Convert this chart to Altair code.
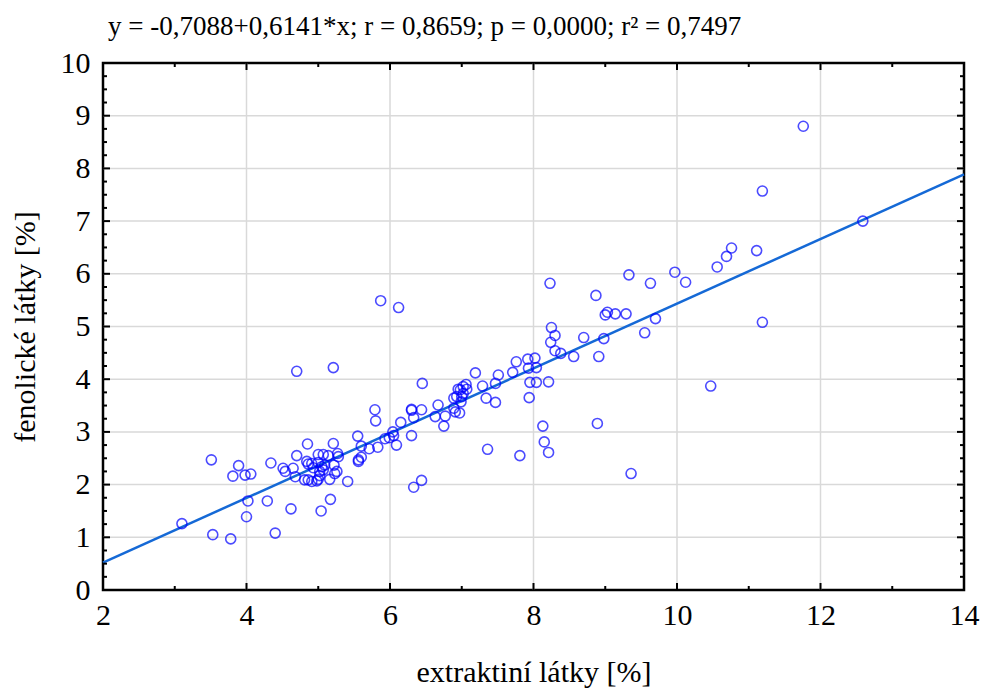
import altair as alt
import pandas as pd

x_vals = [3.10, 3.53, 3.78, 3.51, 3.89, 3.81, 3.98, 4.06, 4.02, 4.00, 4.29, 4.40, 4.34, 4.62,
          4.51, 4.54, 4.65, 4.68, 4.70, 4.85, 4.70, 5.21,
          4.84, 4.86, 4.91, 4.93,
          4.81, 4.86, 4.91, 4.98, 5.00,
          5.00, 5.07, 5.14, 5.00, 5.05, 5.09, 5.02, 5.07, 5.02,
          5.22, 5.26, 5.16, 5.23, 5.21, 5.27, 5.28,
          5.17, 5.04, 5.41,
          5.55, 5.60, 5.56, 5.56, 5.60, 5.71, 5.83, 5.79, 5.80,
          5.87, 6.12,
          5.93, 5.99, 6.05, 6.04, 6.09, 6.15,
          6.30, 6.30, 6.44, 6.33, 6.30, 6.45, 6.44, 6.33,
          6.67, 6.63, 6.77, 6.75,
          6.89, 6.91, 6.97, 6.89, 6.93, 7.00, 7.02, 6.95, 6.98, 7.07, 7.02, 7.06, 6.99,
          7.19, 7.29, 7.34, 7.47, 7.47, 7.51, 7.71, 7.76, 7.36, 7.81,
          7.92, 8.02, 7.93, 8.04, 7.95, 8.04, 7.94, 8.21,
          8.13, 8.15, 8.21,
          8.24, 8.30, 8.25, 8.30, 8.38, 8.56, 8.70, 8.91, 8.98, 8.89,
          8.23, 8.87, 9.00, 9.03, 9.14, 9.29, 9.33, 9.36, 9.55, 9.63, 9.70,
          9.97, 10.12, 10.47, 10.56, 10.69, 10.76, 11.11, 11.19, 11.19, 11.76, 12.59]
y_vals = [1.26, 1.05, 0.97, 2.47, 2.36, 2.16, 2.18, 2.20, 1.69, 1.39, 1.69, 1.08, 2.41, 1.54,
          2.31, 2.25, 2.31, 2.15, 2.55, 2.77, 4.15, 4.22,
          2.44, 2.39, 2.40, 2.32,
          2.09, 2.09, 2.06, 2.07, 2.10,
          2.57, 2.57, 2.55, 2.42, 2.34, 2.37, 2.25, 2.28, 2.17,
          2.37, 2.25, 2.10, 2.21, 2.78, 2.59, 2.53,
          1.72, 1.50, 2.06,
          2.92, 2.73, 2.47, 2.44, 2.52, 2.68, 2.71, 3.42, 3.21,
          5.49, 5.36,
          2.87, 2.89, 2.93, 3.00, 2.75, 3.18,
          3.43, 3.41, 3.42, 3.27, 2.93, 3.92, 2.08, 1.95,
          3.51, 3.29, 3.30, 3.11,
          3.45, 3.38, 3.36, 3.64, 3.67, 3.67, 3.73, 3.81, 3.80, 3.81, 3.86, 3.90, 3.57,
          4.12, 3.87, 3.64, 3.56, 3.92, 4.08, 4.13, 4.33, 2.67, 2.55,
          4.38, 4.40, 4.21, 4.22, 3.94, 3.94, 3.65, 3.95,
          3.11, 2.81, 2.61,
          4.70, 4.83, 4.98, 4.54, 4.49, 4.43, 4.79, 4.43, 4.77, 3.16,
          5.82, 5.59, 5.22, 5.27, 5.24, 5.24, 5.98, 2.21, 4.88, 5.82, 5.15,
          6.03, 5.84, 3.87, 6.13, 6.33, 6.49, 6.44, 7.57, 5.08, 8.80, 7.00]

fit_intercept = -0.7088
fit_slope = 0.6141
fit_x = [2, 14]

x_ticks = [2, 4, 6, 8, 10, 12, 14]
x_minor = [3, 5, 7, 9, 11, 13]
y_ticks = [0, 1, 2, 3, 4, 5, 6, 7, 8, 9, 10]
y_minor = [k / 4 for k in range(41) if k % 4]
grid_x = [4, 6, 8, 10, 12]
grid_y = [1, 2, 3, 4, 5, 6, 7, 8, 9]

title_text = "y = -0,7088+0,6141*x; r = 0,8659; p = 0,0000; r\u00b2 = 0,7497"

W, H = 861, 527
FONT = "Liberation Serif"

xs = alt.Scale(domain=[2, 14], nice=False, zero=False)
ys = alt.Scale(domain=[0, 10], nice=False, zero=False)

df = pd.DataFrame({"x": x_vals, "y": y_vals})

x_axis = alt.Axis(
    values=x_ticks, grid=False, ticks=False, domain=False,
    labelFont=FONT, labelFontSize=30, labelColor="black", labelPadding=10,
    title="extraktiní látky [%]", titleFont=FONT, titleFontSize=30,
    titleFontWeight="normal", titleColor="black",
    titleX=W / 2, titleY=91, titleBaseline="alphabetic", labelFlush=False)
y_axis = alt.Axis(
    values=y_ticks, grid=False, ticks=False, domain=False,
    labelFont=FONT, labelFontSize=30, labelColor="black", labelPadding=13,
    title="fenolické látky [%]", titleFont=FONT, titleFontSize=30,
    titleFontWeight="normal", titleColor="black",
    titleX=-69, titleY=H / 2, titleAngle=-90, titleBaseline="alphabetic",
    titleAlign="center", labelFlush=False)


def vals(lst):
    return alt.Data(values=[{"x": v, "y": v} for v in lst])


gx = alt.Chart(vals(grid_x)).mark_rule(color="#d9d9d9", strokeWidth=1.5).encode(
    x=alt.X("x:Q", scale=xs, axis=x_axis), y=alt.value(0), y2=alt.value(H))
gy = alt.Chart(vals(grid_y)).mark_rule(color="#d9d9d9", strokeWidth=1.5).encode(
    y=alt.Y("y:Q", scale=ys, axis=y_axis), x=alt.value(0), x2=alt.value(W))

points = alt.Chart(df).mark_point(shape="circle", filled=False, color="#0000ff",
                                  size=100, strokeWidth=1.6).encode(
    x=alt.X("x:Q", scale=xs, axis=x_axis),
    y=alt.Y("y:Q", scale=ys, axis=y_axis),
)

line = alt.Chart(alt.Data(values=[{"x": v} for v in fit_x])).transform_calculate(
    y=f"{fit_intercept} + {fit_slope} * datum.x"
).mark_line(color="#1569d6", strokeWidth=2.5).encode(
    x=alt.X("x:Q", scale=xs, axis=x_axis),
    y=alt.Y("y:Q", scale=ys, axis=y_axis),
)


def xtick(lst, y0, y1, w):
    return alt.Chart(vals(lst)).mark_rule(color="black", strokeWidth=w).encode(
        x=alt.X("x:Q", scale=xs, axis=x_axis), y=alt.value(y0), y2=alt.value(y1))


def ytick(lst, x0, x1, w):
    return alt.Chart(vals(lst)).mark_rule(color="black", strokeWidth=w).encode(
        y=alt.Y("y:Q", scale=ys, axis=y_axis), x=alt.value(x0), x2=alt.value(x1))


ticks = [
    xtick(x_ticks, H, H - 7, 2), xtick(x_minor, H, H - 4, 2),
    xtick(x_ticks, 0, 7, 2), xtick(x_minor, 0, 4, 2),
    ytick(y_ticks, 0, 7, 2), ytick(y_minor, 0, 4, 2),
    ytick(y_ticks, W, W - 7, 2), ytick(y_minor, W, W - 4, 2),
]

chart = alt.layer(gx, gy, line, points, *ticks).properties(
    width=W, height=H,
    padding={"left": 103, "top": 63, "right": 17, "bottom": 98},
    autosize=alt.AutoSizeParams(type="none"),
    title=alt.Title(text=title_text, anchor="start", frame="group", dx=5, offset=7,
                    font=FONT, fontSize=27, fontWeight="normal", color="black"),
    background="white",
).configure_view(stroke="black", strokeWidth=2.5)

chart.save("out.html", embed_options={"renderer": "svg", "actions": False})
